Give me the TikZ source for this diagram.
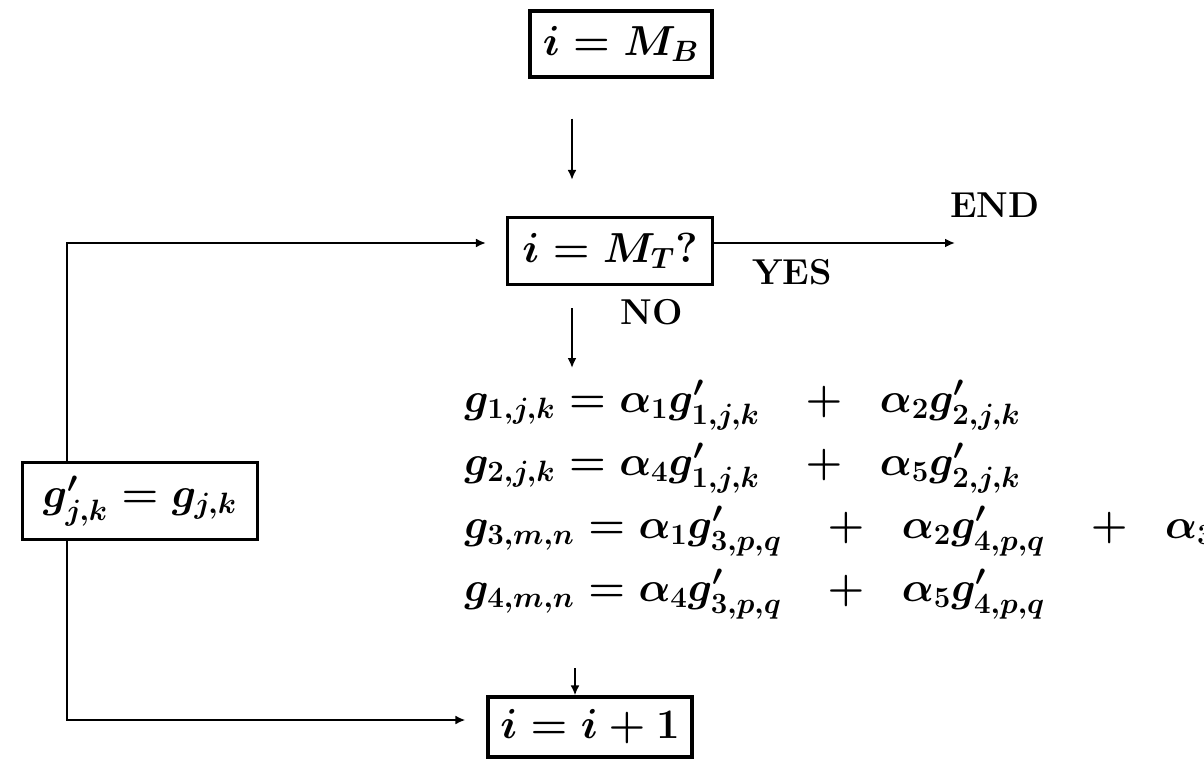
\RequirePackage{fix-cm}
\documentclass[tikz,border=0pt]{standalone}
\usepackage{amsmath}
\usetikzlibrary{arrows.meta}
\newcommand{\pl}{\;\;\,+\;\;}
\begin{document}
\begin{tikzpicture}[x=0.5pt,y=-0.5pt,
  box/.style={draw,line width=1.6pt,inner sep=0pt,font=\fontsize{21}{25}\selectfont\boldmath},
  lbl/.style={font=\fontsize{18}{22}\selectfont\bfseries,inner sep=0pt},
  eqn/.style={font=\fontsize{21}{25}\selectfont\boldmath,inner sep=0pt,anchor=base west},
  conn/.style={line width=1.4pt,-{Latex[length=5pt,width=4.5pt]}}]
\useasboundingbox (0,0) rectangle (1204,759);
\clip (0,0) rectangle (1204,759);
\node[box,minimum width=91pt,minimum height=33pt] (b1) at (621,44) {$i = M_B$};
\node[box,minimum width=102.5pt,minimum height=33.5pt] (b2) at (610,251) {$i = M_T?$};
\node[box,minimum width=117.5pt,minimum height=38.5pt] (b4) at (140,501) {$g'_{j,k} = g_{j,k}$};
\node[box,minimum width=102pt,minimum height=30pt] (b3) at (590,727) {$i = i+1$};
\node[eqn] (eq1) at (464,412) {$g_{1,j,k} = \alpha_1 g'_{1,j,k} \pl \alpha_2 g'_{2,j,k}$};
\node[eqn] (eq2) at (464,475) {$g_{2,j,k} = \alpha_4 g'_{1,j,k} \pl \alpha_5 g'_{2,j,k}$};
\node[eqn] (eq3) at (464,538) {$g_{3,m,n} = \alpha_1 g'_{3,p,q} \pl \alpha_2 g'_{4,p,q} \pl \alpha_3$};
\node[eqn] (eq4) at (464,601) {$g_{4,m,n} = \alpha_4 g'_{3,p,q} \pl \alpha_5 g'_{4,p,q}$};
\node[lbl] (end) at (995,205) {END};
\node[lbl] (yes) at (792,272) {YES};
\node[lbl] (no) at (652,312) {NO};
\coordinate (ax) at (572,0);
\coordinate (ax3) at (575,0);
\coordinate (lx) at (67,0);
\coordinate (ly) at (0,243);
\coordinate (by) at (0,720);
\coordinate (endc) at (955,243);
\draw[conn,shorten <=20pt,shorten >=18pt] (b1.south -| ax) -- (b2.north -| ax);
\draw[conn] (b2.east |- ly) -- (endc);
\draw[conn,shorten <=11pt,shorten >=6pt] (b2.south -| ax) -- (eq1.north -| ax);
\draw[conn,shorten <=24pt] (eq4.south -| ax3) -- (b3.north -| ax3);
\draw[conn,shorten >=10pt] (b4.north -| lx) |- (b2.west |- ly);
\draw[conn,shorten >=10.5pt] (b4.south -| lx) |- (b3.west |- by);
\end{tikzpicture}
\end{document}
